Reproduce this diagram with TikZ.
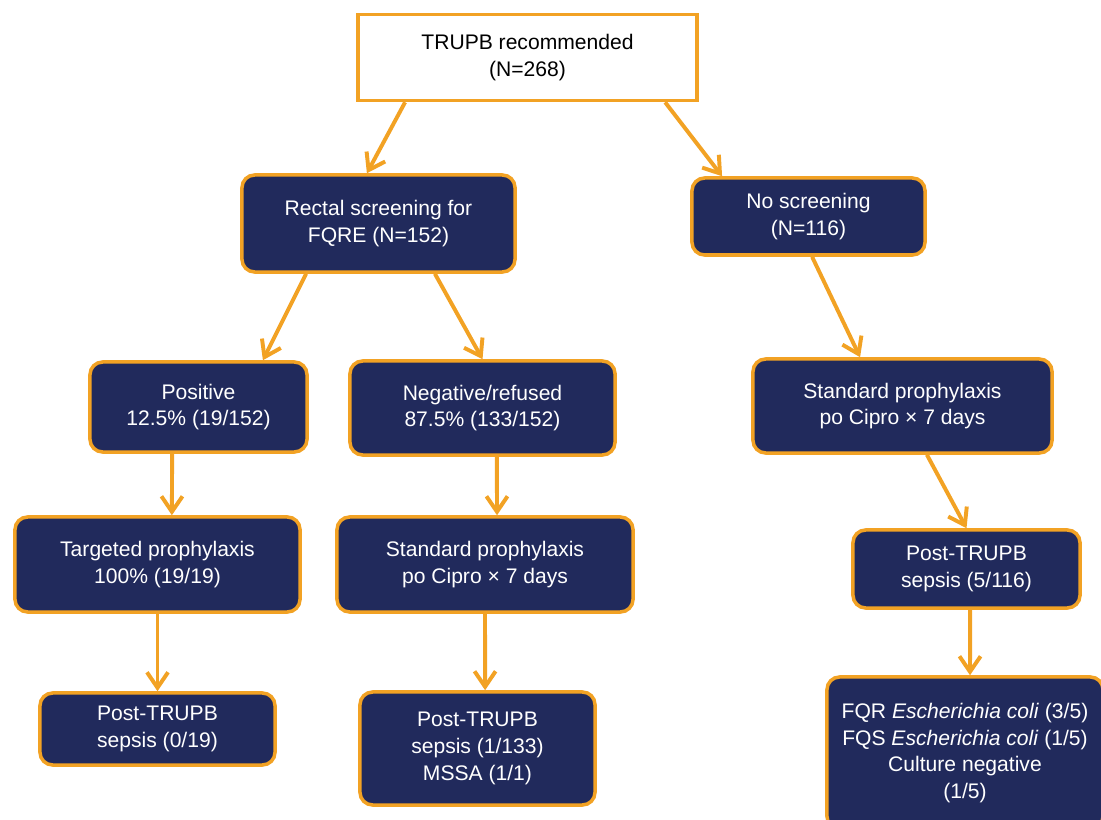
\documentclass[tikz,border=0pt]{standalone}
\usepackage{fontspec}
\setmainfont{Liberation Sans}
\usetikzlibrary{arrows.meta}
\definecolor{boxnavy}{RGB}{33,42,92}
\definecolor{lineorange}{RGB}{242,162,36}

\begin{document}
\begin{tikzpicture}[x=0.025cm, y=-0.025cm,
        start/.style={rectangle, draw=lineorange, line width=2.5pt, fill=white, align=center, font=\fontsize{15}{19}\selectfont},
        stage/.style={rectangle, rounded corners=9pt, draw=lineorange, line width=2.5pt, fill=boxnavy, text=white, align=center, font=\fontsize{15}{19}\selectfont},
        arrow/.style={-{Straight Barb[length=11pt, width=15pt]}, draw=lineorange, line width=2.8pt}
    ]
        \useasboundingbox (0,0) rectangle (1101,820);

        % Start
        \node[start, minimum width=8.475cm, minimum height=2.15cm] (recom) at (527.5,57.5) {TRUPB recommended\\(N=268)};

        % Screened arm
        \node[stage, minimum width=6.825cm, minimum height=2.425cm] (rectal) at (378.5,223.5) {Rectal screening for\\FQRE (N=152)};
        \node[stage, minimum width=5.425cm, minimum height=2.25cm] (pos) at (198.5,407) {Positive\\12.5\% (19/152)};
        \node[stage, minimum width=6.625cm, minimum height=2.35cm] (neg) at (482.5,408) {Negative/refused\\87.5\% (133/152)};
        \node[stage, minimum width=7.125cm, minimum height=2.375cm] (targ) at (157.5,564.5) {Targeted prophylaxis\\100\% (19/19)};
        \node[stage, minimum width=7.4cm, minimum height=2.375cm] (stdM) at (485,564.5) {Standard prophylaxis\\po Cipro × 7 days};
        \node[stage, minimum width=5.875cm, minimum height=1.8cm] (postL) at (157.5,729) {Post-TRUPB\\sepsis (0/19)};
        \node[stage, minimum width=5.875cm, minimum height=2.825cm] (postM) at (477.5,748.5) {Post-TRUPB\\sepsis (1/133)\\MSSA (1/1)};

        % Unscreened arm
        \node[stage, minimum width=5.825cm, minimum height=1.925cm] (noscr) at (808.5,216.5) {No screening\\(N=116)};
        \node[stage, minimum width=7.475cm, minimum height=2.35cm] (stdR) at (902.5,406) {Standard prophylaxis\\po Cipro × 7 days};
        \node[stage, minimum width=5.675cm, minimum height=1.95cm] (postR) at (966.5,569) {Post-TRUPB\\sepsis (5/116)};
        \node[stage, minimum width=6.9cm, minimum height=3.8cm] (res) at (965,753) {FQR \textit{Escherichia coli} (3/5)\\FQS \textit{Escherichia coli} (1/5)\\Culture negative\\(1/5)};

        % Arrows
        \draw[arrow] ([xshift=-3.06cm]recom.south) -- ([xshift=-0.29cm]rectal.north);
        \draw[arrow] ([xshift=3.44cm]recom.south) -- ([xshift=-2.16cm]noscr.north);
        \draw[arrow] ([xshift=-1.81cm]rectal.south) -- ([xshift=1.61cm]pos.north);
        \draw[arrow] ([xshift=1.41cm]rectal.south) -- (neg.north);
        \draw[arrow] ([xshift=-0.66cm]pos.south) -- ([xshift=0.36cm]targ.north);
        \draw[arrow] ([xshift=0.36cm]neg.south) -- ([xshift=0.3cm]stdM.north);
        \draw[arrow] (targ.south) -- (postL.north);
        \draw[arrow] (stdM.south) -- ([xshift=0.19cm]postM.north);
        \draw[arrow] ([xshift=0.09cm]noscr.south) -- ([xshift=-1.06cm]stdR.north);
        \draw[arrow] ([xshift=0.61cm]stdR.south) -- (postR.north);
        \draw[arrow] ([xshift=0.09cm]postR.south) -- ([xshift=0.125cm]res.north);
    \end{tikzpicture}
\end{document}
